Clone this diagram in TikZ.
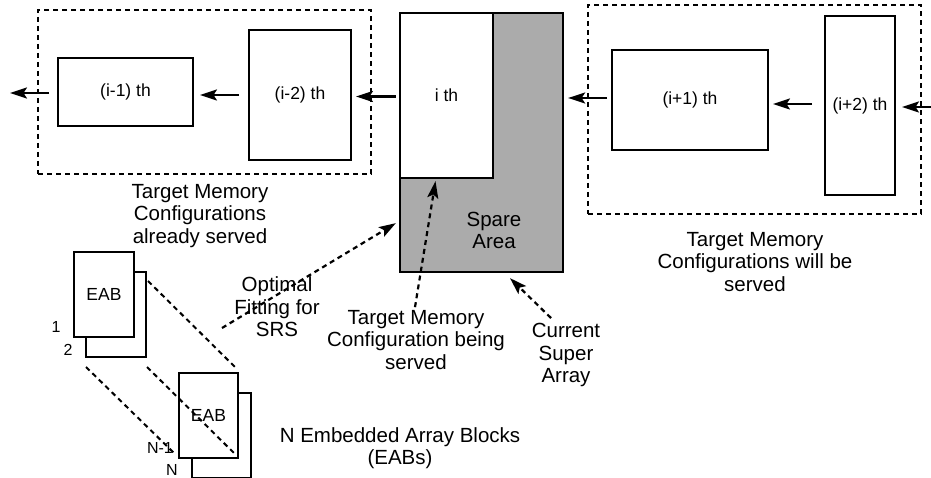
\documentclass[tikz,border=0pt]{standalone}
\usepackage{fontspec}
\setmainfont{Liberation Sans}
\usetikzlibrary{arrows.meta,calc}
\begin{document}
\begin{tikzpicture}[x=1pt,y=-1pt,
  box/.style={draw,line width=2pt,fill=white,inner sep=0pt,font=\fontsize{17.5}{20}\selectfont},
  grp/.style={draw,line width=2pt,dash pattern=on 5pt off 4pt,inner sep=0pt},
  txt/.style={align=center,font=\fontsize{20.5}{22.5}\selectfont,inner sep=0pt},
  flow/.style={line width=2.2pt,-{Stealth[length=17pt,width=11pt,inset=3.5pt]}},
  dflow/.style={flow,dash pattern=on 5pt off 4pt},
  dline/.style={line width=2pt,dash pattern=on 5pt off 4pt},
  num/.style={font=\fontsize{16}{18}\selectfont,inner sep=0pt}]
\useasboundingbox (0,0) rectangle (931,478);
% dashed groups
\node[grp,minimum width=333pt,minimum height=164pt] (done) at (204.5,92) {};
\node[grp,minimum width=333pt,minimum height=209pt] (todo) at (754.5,109.5) {};
% configuration boxes
\node[box,minimum width=135pt,minimum height=68pt] (im1) at (125.5,92) {(i-1) th};
\node[box,minimum width=102pt,minimum height=130pt] (im2) at (300,95) {(i-2) th};
\node[box,line width=2.3pt,fill=black!33,minimum width=163pt,minimum height=259pt] (sa) at (481.5,142.5) {};
\node[box,line width=2.3pt,minimum width=93pt,minimum height=165pt] (ith) at (446.5,95.5) {i th};
\node[box,minimum width=156pt,minimum height=100pt] (ip1) at (690,100) {(i+1) th};
\node[box,minimum width=70pt,minimum height=179pt] (ip2) at (860,105.5) {(i+2) th};
\node[txt,font=\fontsize{20.5}{22}\selectfont] (spare) at (494,230) {Spare\\Area};
% flow arrows
\coordinate (outL) at (10,93);
\coordinate (inR) at (931,107);
\draw[flow] ($(im1.west)+(-8,1)$) -- (outL);
\draw[flow] ($(im2.west)+(-9,0)$) -- ($(im2.west -| im1.east)+(6,0)$);
\draw[flow] ($(ith.west)+(-3,1)$) -- ($(ith.west -| im2.east)+(4,1)$);
\draw[flow] ($(ip1.west)+(-4,-2)$) -- ($(ip1.west -| sa.east)+(4,-2)$);
\draw[flow] ($(ip2.west)+(-12,-1.5)$) -- ($(ip2.west -| ip1.east)+(4,-1.5)$);
\draw[flow] (inR) -- ($(ip2.east |- inR)+(6,0)$);
% captions
\node[txt] (donecap) at (200,216) {Target Memory\\Configurations\\already served};
\node[txt] (todocap) at (755,262) {Target Memory\\Configurations will be\\served};
\node[txt] (fit) at (277,307) {Optimal\\Fitting for\\SRS};
\node[txt] (served) at (416,340) {Target Memory\\Configuration being\\served};
\node[txt] (cur) at (566,355) {Current\\Super\\Array};
\node[txt] (eabs) at (400,448) {N Embedded Array Blocks\\(EABs)};
% dashed arrows
\coordinate (fitS) at (222,328);
\draw[dflow] (fitS) -- ($(sa.south west)+(-3,-50)$);
\draw[dflow] ($(served.north)+(-1,-3)$) -- ($(ith.south)+(-11,2)$);
\draw[dflow] ($(cur.north)+(-15,-5)$) -- ($(sa.south)+(28.5,5)$);
% EAB stacks
\node[box,minimum width=60pt,minimum height=85pt] (eab2) at (116,314.5) {};
\node[box,minimum width=60pt,minimum height=85pt] (eab1) at (104,294.5) {EAB};
\node[box,minimum width=59pt,minimum height=85pt] (eabN) at (221.5,435.5) {};
\node[box,minimum width=59pt,minimum height=85pt] (eabN1) at (208.5,415.5) {EAB};
\node[num] (n1) at (56,327) {1};
\node[num] (n2) at (68,350) {2};
\node[num] (nN1) at (160,448) {N-1};
\node[num] (nN) at (172,470) {N};
\draw[dline] ($(eab2.north east)+(1,10)$) -- ($(eabN1.north east)+(-3,-4)$);
\draw[dline] ($(eab2.south east)+(0,9)$) -- ($(eabN1.south east)+(-4,-5)$);
\draw[dline] ($(eab2.south west)+(1,9)$) -- ($(eabN1.south west)+(-3,-5)$);
\end{tikzpicture}
\end{document}
